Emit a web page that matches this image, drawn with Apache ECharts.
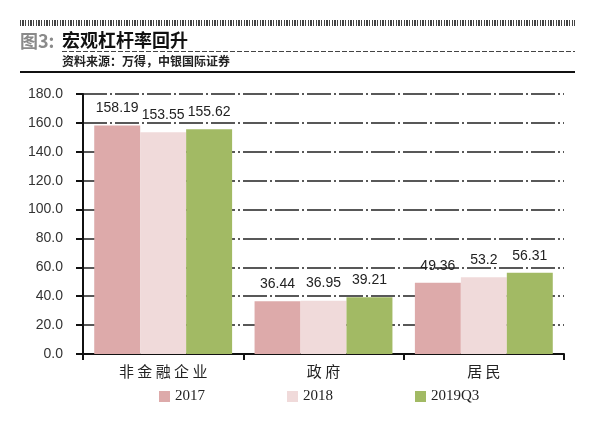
<!DOCTYPE html>
<html><head><meta charset="utf-8">
<script src="https://cdn.jsdelivr.net/npm/echarts@6/dist/echarts.min.js"></script>
<style>html,body{margin:0;padding:0;background:#fff}#c{width:600px;height:428px}</style>
</head><body><div id="c"></div>
<script>
var categories = ['非金融企业', '政府', '居民'];
var seriesNames = ['2017', '2018', '2019Q3'];
var s2017 = [158.19, 36.44, 49.36];
var s2018 = [153.55, 36.95, 53.2];
var s2019Q3 = [155.62, 39.21, 56.31];
var colors = ['#DDAAAA', '#F0DADA', '#A2BA64'];

var chart = echarts.init(document.getElementById('c'));
var labelStyle = {show: true, position: 'top', distance: 10, fontFamily: 'Arial, Liberation Sans', fontSize: 14, color: '#222'};
function mk(name, data, color) {
  return {name: name, type: 'bar', data: data, barGap: '0%', barCategoryGap: '14%',
    itemStyle: {color: color}, label: labelStyle};
}
chart.setOption({
  animation: false,
  color: colors,
  grid: {left: 83, right: 36, top: 94, bottom: 74},
  graphic: [
    {type: 'line', shape: {x1: 20, y1: 23, x2: 575, y2: 23}, style: {stroke: '#444', lineWidth: 6, lineDash: [1, 1, 2, 1, 1, 2]}},
    {type: 'text', left: 20, top: 32, style: {text: '图3:', font: 'bold 18px "Noto Sans CJK SC"', fill: '#8a8a8a'}},
    {type: 'text', left: 62, top: 31, style: {text: '宏观杠杆率回升', font: 'bold 18px "Noto Sans CJK SC"', fill: '#111'}},
    {type: 'line', shape: {x1: 62, y1: 51.5, x2: 575, y2: 51.5}, style: {stroke: '#444', lineWidth: 1, lineDash: [5, 2]}},
    {type: 'text', left: 62, top: 55, style: {text: '资料来源：万得，中银国际证券', font: 'bold 12px "Noto Sans CJK SC"', fill: '#222'}},
    {type: 'line', shape: {x1: 20, y1: 72, x2: 575, y2: 72}, style: {stroke: '#111', lineWidth: 2}}
  ],
  legend: {
    data: seriesNames, left: 159, top: 389, padding: 0, itemWidth: 11, itemHeight: 11, itemGap: 82,
    icon: 'rect', textStyle: {fontFamily: 'Liberation Serif', fontSize: 15, color: '#222'}
  },
  xAxis: {
    type: 'category', data: categories,
    axisLine: {lineStyle: {color: '#111', width: 2}},
    axisTick: {show: true, length: 6, lineStyle: {color: '#111', width: 2}},
    axisLabel: {fontFamily: '"Noto Sans CJK SC"', fontSize: 15, color: '#222', margin: 10,
      formatter: function (v) { return v.split('').join(' '); }}
  },
  yAxis: {
    type: 'value', min: 0, max: 180, interval: 20,
    axisLine: {show: true, lineStyle: {color: '#111', width: 2}},
    axisTick: {show: true, length: 7, lineStyle: {color: '#111', width: 2}},
    axisLabel: {fontFamily: 'Arial, Liberation Sans', fontSize: 14, color: '#333', margin: 20,
      formatter: function (v) { return v.toFixed(1); }},
    splitLine: {show: true, lineStyle: {color: '#222', width: 1.5, type: [24, 3, 2, 3]}}
  },
  series: [mk(seriesNames[0], s2017, colors[0]), mk(seriesNames[1], s2018, colors[1]), mk(seriesNames[2], s2019Q3, colors[2])]
});
</script></body></html>
